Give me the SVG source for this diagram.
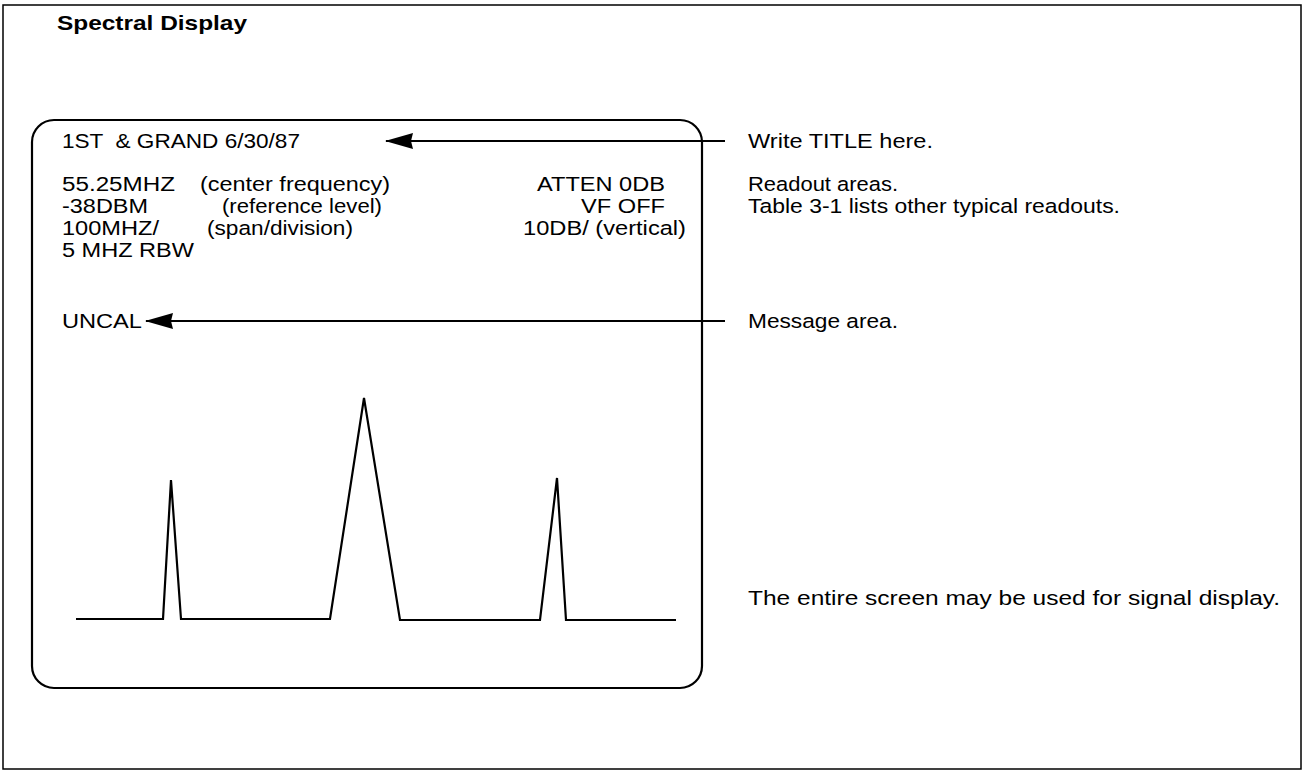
<svg xmlns="http://www.w3.org/2000/svg" width="1306" height="772" viewBox="0 0 1306 772">
<defs>
<marker id="ah" viewBox="0 0 28 16" refX="27" refY="8" markerWidth="28" markerHeight="16" markerUnits="userSpaceOnUse" orient="auto">
<path d="M28,8 L0,0 L2,8 L0,16 Z" fill="#000"/>
</marker>
<style>
text{font-family:"Liberation Sans",Arial,sans-serif;font-size:20.5px;fill:#000}
.t{font-weight:bold;font-size:21px}
.r{text-anchor:end}
.ln{fill:none;stroke:#000;stroke-width:2.2}
</style>
</defs>
<rect x="0" y="0" width="1306" height="772" fill="#fff"/>
<rect x="3" y="5" width="1298" height="764" fill="none" stroke="#000" stroke-width="1.5"/>
<text class="t" x="57" y="30" textLength="190" lengthAdjust="spacingAndGlyphs">Spectral Display</text>
<g id="screen">
<rect x="32" y="120" width="670" height="568" rx="22" ry="22" class="ln"/>
<text x="62" y="148" xml:space="preserve" textLength="238" lengthAdjust="spacingAndGlyphs">1ST  &amp; GRAND 6/30/87</text>
<text x="62" y="191" textLength="113" lengthAdjust="spacingAndGlyphs">55.25MHZ</text>
<text x="200" y="191" textLength="190" lengthAdjust="spacingAndGlyphs">(center frequency)</text>
<text x="62" y="213" textLength="86" lengthAdjust="spacingAndGlyphs">-38DBM</text>
<text x="222" y="213" textLength="160" lengthAdjust="spacingAndGlyphs">(reference level)</text>
<text x="62" y="235" textLength="97" lengthAdjust="spacingAndGlyphs">100MHZ/</text>
<text x="207" y="235" textLength="146" lengthAdjust="spacingAndGlyphs">(span/division)</text>
<text x="62" y="257" textLength="132" lengthAdjust="spacingAndGlyphs">5 MHZ RBW</text>
<text class="r" x="665" y="191" textLength="128" lengthAdjust="spacingAndGlyphs">ATTEN 0DB</text>
<text class="r" x="665" y="213" textLength="84" lengthAdjust="spacingAndGlyphs">VF OFF</text>
<text class="r" x="686" y="235" textLength="163" lengthAdjust="spacingAndGlyphs">10DB/ (vertical)</text>
<text x="62" y="328" textLength="80" lengthAdjust="spacingAndGlyphs">UNCAL</text>
<polyline class="ln" points="76,619 163,619 171,480 181,619 330,619 364,398 400,620 540,620 557,478 566,620 676,620"/>
</g>
<g id="labels">
<text x="748" y="148" textLength="185" lengthAdjust="spacingAndGlyphs">Write TITLE here.</text>
<text x="748" y="191" textLength="150" lengthAdjust="spacingAndGlyphs">Readout areas.</text>
<text x="748" y="213" textLength="372" lengthAdjust="spacingAndGlyphs">Table 3-1 lists other typical readouts.</text>
<text x="748" y="328" textLength="150" lengthAdjust="spacingAndGlyphs">Message area.</text>
<text x="748" y="605" textLength="532" lengthAdjust="spacingAndGlyphs">The entire screen may be used for signal display.</text>
</g>
<g id="connectors">
<line class="ln" x1="725" y1="141" x2="386" y2="141" marker-end="url(#ah)"/>
<line class="ln" x1="725" y1="321" x2="146" y2="321" marker-end="url(#ah)"/>
</g>
</svg>
